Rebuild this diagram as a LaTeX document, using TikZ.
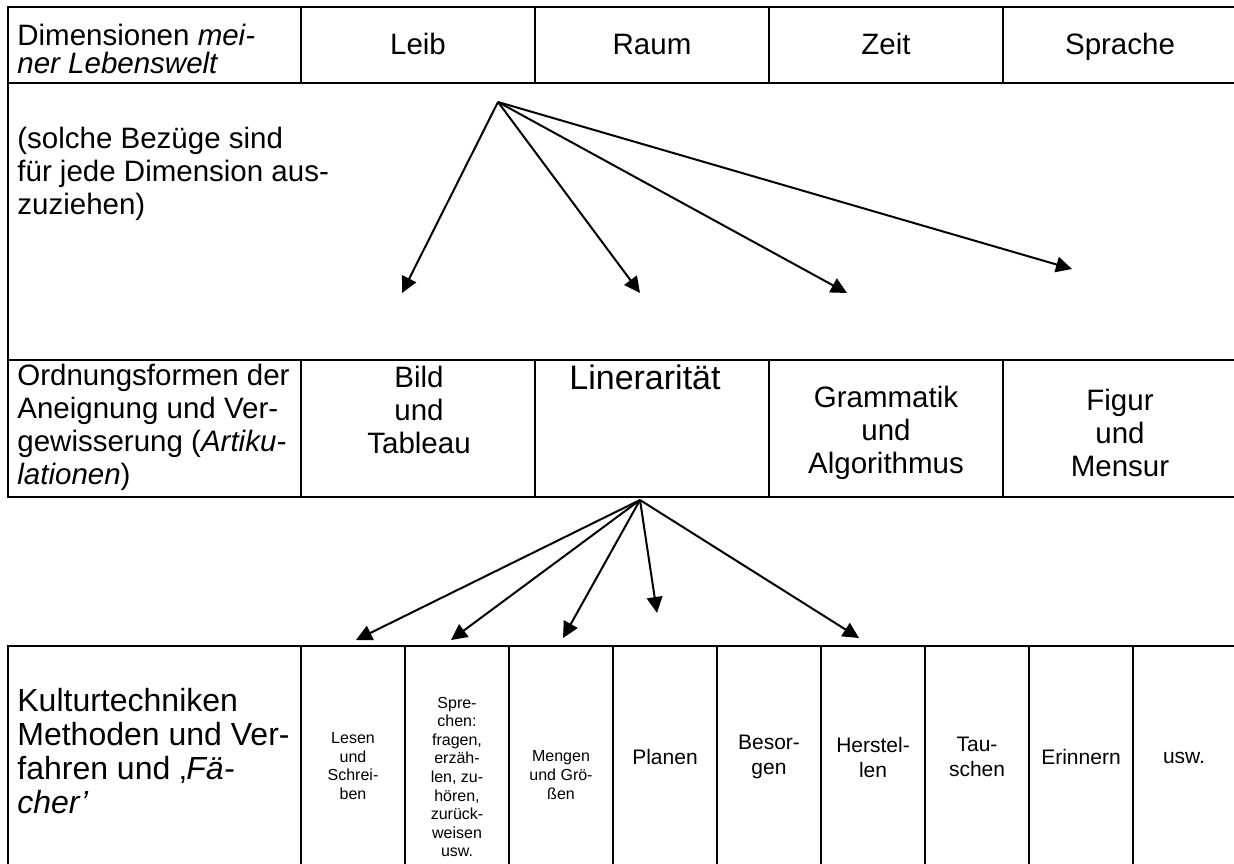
\documentclass[tikz,border=0pt]{standalone}
\usepackage{fontspec}
\setmainfont{Liberation Sans}
\usetikzlibrary{arrows.meta}

\begin{document}
\begin{tikzpicture}[x=0.5pt,y=-0.5pt]
  \tikzstyle{every node}+=[inner sep=0pt]
  \tikzstyle{rule}=[black,line width=1.3pt]
  \tikzstyle{link}=[black,line width=1pt,-{Triangle[length=8pt,width=7.8pt]}]
  \tikzstyle{head}=[font=\fontsize{14.75}{16.5}\selectfont,align=center]
  \tikzstyle{side}=[font=\fontsize{14.75}{16.5}\selectfont,align=left,anchor=west]
  \tikzstyle{midcell}=[font=\fontsize{10.5}{12.5}\selectfont,align=center]
  \tikzstyle{smallcell}=[font=\fontsize{8}{9.3}\selectfont,align=center]
  \useasboundingbox (0,0) rectangle (1234,863);
  \clip (0,0) rectangle (1234,863);
  % upper table
  \draw [rule] (8,7) rectangle (1240,497);
  \draw [rule] (8,83) -- (1240,83);
  \draw [rule] (8,360) -- (1240,360);
  \draw [rule] (301,7) -- (301,83);
  \draw [rule] (535,7) -- (535,83);
  \draw [rule] (769,7) -- (769,83);
  \draw [rule] (1003,7) -- (1003,83);
  \draw [rule] (301,360) -- (301,497);
  \draw [rule] (535,360) -- (535,497);
  \draw [rule] (769,360) -- (769,497);
  \draw [rule] (1003,360) -- (1003,497);
  % lower table
  \draw [rule] (8,646) rectangle (1240,920);
  \draw [rule] (301,646) -- (301,920);
  \draw [rule] (405,646) -- (405,920);
  \draw [rule] (509,646) -- (509,920);
  \draw [rule] (613,646) -- (613,920);
  \draw [rule] (717,646) -- (717,920);
  \draw [rule] (821,646) -- (821,920);
  \draw [rule] (925,646) -- (925,920);
  \draw [rule] (1029,646) -- (1029,920);
  \draw [rule] (1133,646) -- (1133,920);
  % row 1
  \node [side,font=\fontsize{14.75}{14}\selectfont] (dim) at (17,49) {Dimensionen \textit{mei-}\\\textit{ner Lebenswelt}};
  \node [head,anchor=base] (leib) at (418,54) {Leib};
  \node [head,anchor=base] (raum) at (652,54) {Raum};
  \node [head,anchor=base] (zeit) at (886,54) {Zeit};
  \node [head,anchor=base] (sprache) at (1120,54) {Sprache};
  % row 2
  \node [side] (hint) at (17,174) {(solche Bezüge sind\\für jede Dimension aus-\\zuziehen)};
  \coordinate (dimsrc) at (498,102);
  \coordinate (leibtip) at (402,293);
  \coordinate (raumtip) at (640,293);
  \coordinate (zeittip) at (847,293);
  \coordinate (sprachetip) at (1072,269);
  \draw [link] (dimsrc) -- (leibtip);
  \draw [link] (dimsrc) -- (raumtip);
  \draw [link] (dimsrc) -- (zeittip);
  \draw [link] (dimsrc) -- (sprachetip);
  % row 3
  \node [side] (ordn) at (17,427) {Ordnungsformen der\\Aneignung und Ver-\\gewisserung (\textit{Artiku-}\\\textit{lationen})};
  \node [head] (bild) at (419,410) {Bild\\und\\Tableau};
  \node [head,font=\fontsize{17}{19}\selectfont] (linear) at (645,377) {Linerarität};
  \node [head] (gramm) at (886,433) {Grammatik\\und\\Algorithmus};
  \node [head] (figur) at (1120,433) {Figur\\und\\Mensur};
  % arrows to the lower table
  \coordinate (linsrc) at (640,500);
  \coordinate (lesentip) at (356,640);
  \coordinate (sprechtip) at (451,640);
  \coordinate (mengentip) at (563,638);
  \coordinate (planentip) at (657,613);
  \coordinate (hersttip) at (859,638);
  \draw [link] (linsrc) -- (lesentip);
  \draw [link] (linsrc) -- (sprechtip);
  \draw [link] (linsrc) -- (mengentip);
  \draw [link] (linsrc) -- (planentip);
  \draw [link] (linsrc) -- (hersttip);
  % lower table
  \node [side,font=\fontsize{16}{17}\selectfont] (kultur) at (17,751) {Kulturtechniken\\Methoden und Ver-\\fahren und ‚\textit{Fä-}\\\textit{cher’}};
  \node [smallcell] (lesen) at (353,766) {Lesen\\und\\Schrei-\\ben};
  \node [smallcell] (sprechen) at (457,777) {Spre-\\chen:\\fragen,\\erzäh-\\len, zu-\\hören,\\zurück-\\weisen\\usw.};
  \node [smallcell] (mengen) at (561,775) {Mengen\\und Grö-\\ßen};
  \node [midcell] (planen) at (665,757) {Planen};
  \node [midcell] (besorgen) at (769,757) {Besor-\\gen};
  \node [midcell] (herstellen) at (873,757) {Herstel-\\len};
  \node [midcell] (tauschen) at (977,757) {Tau-\\schen};
  \node [midcell] (erinnern) at (1081,757) {Erinnern};
  \node [midcell,anchor=base] (usw) at (1184,763) {usw.};
\end{tikzpicture}
\end{document}
